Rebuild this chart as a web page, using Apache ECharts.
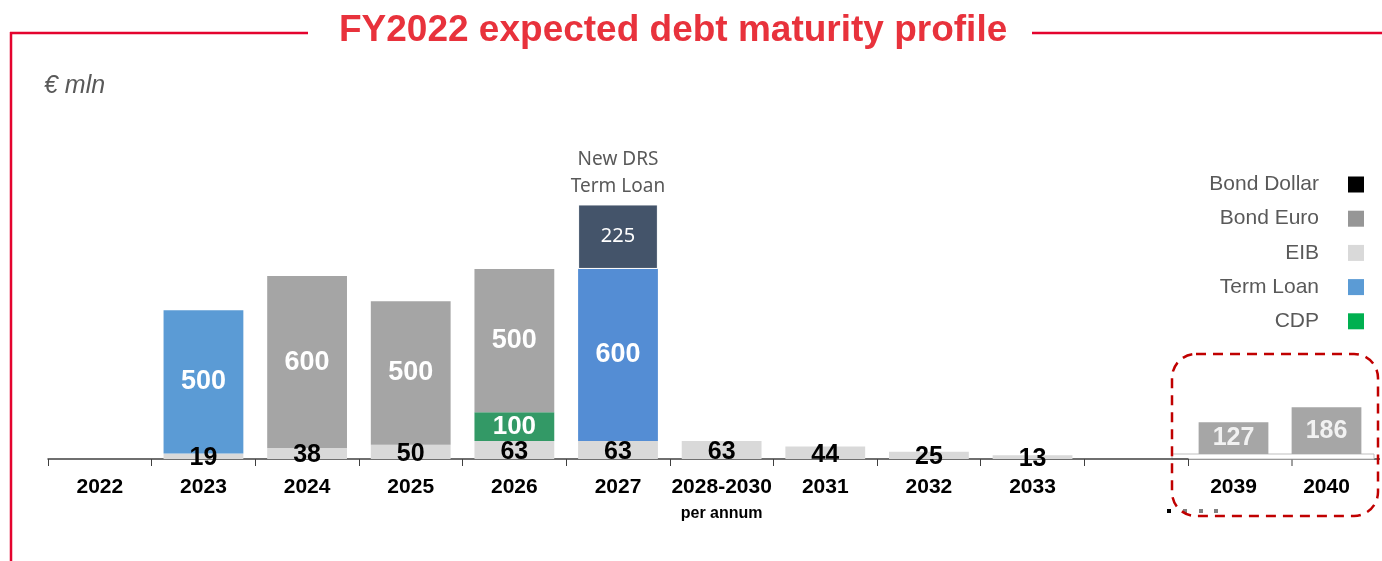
<!DOCTYPE html>
<html>
<head>
<meta charset="utf-8">
<title>FY2022 expected debt maturity profile</title>
<script src="https://cdn.jsdelivr.net/npm/echarts@6/dist/echarts.min.js"></script>
<style>
  html, body { margin: 0; padding: 0; background: #fff; }
  #chart { width: 1382px; height: 561px; }
</style>
</head>
<body>
<div id="chart"></div>
<script>
// data (EUR mln)
const years = ['2022', '2023', '2024', '2025', '2026', '2027', '2028-2030', '2031', '2032', '2033', ''];
const eib = [null, 19, 38, 50, 63, 63, 63, 44, 25, 13, null];
const cdp = [null, null, null, null, 100, null, null, null, null, null, null];
const termLoan = [null, 500, null, null, null, 600, null, null, null, null, null];
const bondEuro = [null, null, 600, 500, 500, null, null, null, null, null, null];
const newDrs = [null, null, null, null, null, 225, null, null, null, null, null];
const bondDollar = [null, null, null, null, null, null, null, null, null, null, null];

const lateYears = ['2039', '2040'];
const lateBondEuro = [127, 186];

const FONT = '"Liberation Sans", Arial, sans-serif';
const RED = '#E4032E';
const AXIS = '#404040';

const whiteBig = { show: true, position: 'inside', color: '#fff', fontWeight: 'bold', fontSize: 27, fontFamily: FONT };
const darkSmall = { show: true, position: 'inside', offset: [0, 2], color: '#000', fontWeight: 'bold', fontSize: 25, fontFamily: FONT };

const option = {
  animation: false,
  title: [
    {
      text: 'FY2022 expected debt maturity profile',
      left: 334,
      top: 7,
      textStyle: { color: '#E8323C', fontSize: 37, fontWeight: 'bold', fontFamily: FONT }
    },
    {
      text: '€ mln',
      left: 39,
      top: 69,
      textStyle: { color: '#595959', fontSize: 25, fontStyle: 'italic', fontWeight: 'normal', fontFamily: FONT }
    }
  ],
  legend: {
    orient: 'vertical',
    right: 18,
    top: 174,
    padding: 0,
    itemWidth: 16,
    itemHeight: 16,
    itemGap: 13.2,
    align: 'right',
    icon: 'rect',
    selectedMode: false,
    textStyle: { color: '#595959', fontSize: 21, fontFamily: FONT, padding: [0, 24, 0, 0] },
    data: [
      { name: 'Bond Dollar', itemStyle: { color: '#000' } },
      { name: 'Bond Euro', itemStyle: { color: '#969696' } },
      { name: 'EIB', itemStyle: { color: '#D9D9D9' } },
      { name: 'Term Loan', itemStyle: { color: '#5B9BD5' } },
      { name: 'CDP', itemStyle: { color: '#00B050' } }
    ]
  },
  grid: [
    { left: 48, right: 194, top: 115, bottom: 102 },
    { left: 1187, right: 9, top: 153, bottom: 107 }
  ],
  xAxis: [
    {
      type: 'category',
      gridIndex: 0,
      data: years,
      axisLine: { show: true, lineStyle: { color: AXIS, width: 1.5 } },
      axisTick: { show: true, length: 7, lineStyle: { color: AXIS, width: 1 } },
      axisLabel: {
        margin: 14.5,
        lineHeight: 27,
        color: '#000',
        fontSize: 21,
        fontWeight: 'bold',
        fontFamily: FONT,
        interval: 0,
        formatter: function (v) {
          return v === '2028-2030' ? '{a|2028-2030}\n{b|per annum}' : v;
        },
        rich: {
          a: { fontSize: 21, fontWeight: 'bold', lineHeight: 27, color: '#000', fontFamily: FONT },
          b: { fontSize: 16, fontWeight: 'bold', lineHeight: 27, color: '#000', fontFamily: FONT }
        }
      }
    },
    {
      type: 'category',
      gridIndex: 1,
      data: lateYears,
      axisLine: { show: false },
      axisTick: { show: false },
      axisLabel: { margin: 19.5, lineHeight: 27, color: '#000', fontSize: 21, fontWeight: 'bold', fontFamily: FONT }
    }
  ],
  yAxis: [
    { type: 'value', gridIndex: 0, min: 0, max: 1200, show: false },
    { type: 'value', gridIndex: 1, min: 0, max: 1200, show: false }
  ],
  series: [
    {
      name: 'EIB', type: 'bar', stack: 'a', barWidth: '77%',
      data: eib,
      itemStyle: { color: '#D9D9D9' },
      label: darkSmall
    },
    {
      name: 'CDP', type: 'bar', stack: 'a',
      data: cdp,
      itemStyle: { color: '#339966' },
      label: Object.assign({}, whiteBig, { fontSize: 26 })
    },
    {
      name: 'Term Loan', type: 'bar', stack: 'a',
      data: termLoan.map(function (v, i) {
        return i === 5 ? { value: v, itemStyle: { color: '#548DD4' } } : v;
      }),
      itemStyle: { color: '#5B9BD5' },
      label: whiteBig
    },
    {
      name: 'Bond Euro', type: 'bar', stack: 'a',
      data: bondEuro,
      itemStyle: { color: '#A5A5A5' },
      label: whiteBig
    },
    {
      name: 'New DRS Term Loan', type: 'bar', stack: 'a',
      data: newDrs,
      itemStyle: { color: '#44546A', borderColor: '#fff', borderWidth: 1 },
      label: { show: true, position: 'inside', color: '#fff', fontSize: 20, fontFamily: '"Noto Sans", sans-serif' },
      markPoint: {
        symbol: 'circle',
        symbolSize: 1,
        itemStyle: { color: 'rgba(0,0,0,0)' },
        label: {
          show: true,
          position: 'top',
          distance: 4,
          formatter: 'New DRS\nTerm Loan',
          color: '#595959',
          fontSize: 19,
          lineHeight: 27,
          fontFamily: '"Noto Sans", sans-serif'
        },
        data: [{ coord: ['2027', 888] }]
      }
    },
    {
      name: 'Bond Dollar', type: 'bar', stack: 'a',
      data: bondDollar,
      itemStyle: { color: '#000' }
    },
    {
      name: 'Bond Euro', type: 'bar', xAxisIndex: 1, yAxisIndex: 1, barWidth: '75%',
      data: lateBondEuro,
      itemStyle: { color: '#A6A6A6' },
      label: { show: true, position: 'inside', color: '#F2F2F2', fontWeight: 'bold', fontSize: 25, fontFamily: FONT }
    }
  ],
  graphic: [
    // red frame round the slide box
    { type: 'line', shape: { x1: 10, y1: 33, x2: 308, y2: 33 }, style: { stroke: RED, lineWidth: 2.5 } },
    { type: 'line', shape: { x1: 1032, y1: 33, x2: 1382, y2: 33 }, style: { stroke: RED, lineWidth: 2.5 } },
    { type: 'line', shape: { x1: 11, y1: 32, x2: 11, y2: 561 }, style: { stroke: RED, lineWidth: 2.5 } },
    // axis carried on under the later years
    { type: 'line', shape: { x1: 1188, y1: 459, x2: 1380, y2: 459 }, style: { stroke: AXIS, lineWidth: 1.5 } },
    { type: 'line', shape: { x1: 1292, y1: 459, x2: 1292, y2: 466 }, style: { stroke: AXIS, lineWidth: 1 } },
    { type: 'rect', shape: { x: 1172, y: 454, width: 202, height: 5 }, style: { fill: '#fff', stroke: '#BFBFBF', lineWidth: 1 } },
    // break dots
    { type: 'rect', shape: { x: 1167, y: 509, width: 4, height: 4 }, style: { fill: '#000' } },
    { type: 'rect', shape: { x: 1183, y: 509, width: 4, height: 4 }, style: { fill: '#7F7F7F' } },
    { type: 'rect', shape: { x: 1199, y: 509, width: 4, height: 4 }, style: { fill: '#7F7F7F' } },
    { type: 'rect', shape: { x: 1214, y: 509, width: 4, height: 4 }, style: { fill: '#7F7F7F' } },
    // dashed highlight box
    { type: 'rect', z: 100, shape: { x: 1172, y: 354, width: 206, height: 162, r: 24 }, style: { fill: 'none', stroke: '#C00000', lineWidth: 2.5, lineDash: [10, 7] } }
  ]
};

const myChart = echarts.init(document.getElementById('chart'));
myChart.setOption(option);
</script>
</body>
</html>
